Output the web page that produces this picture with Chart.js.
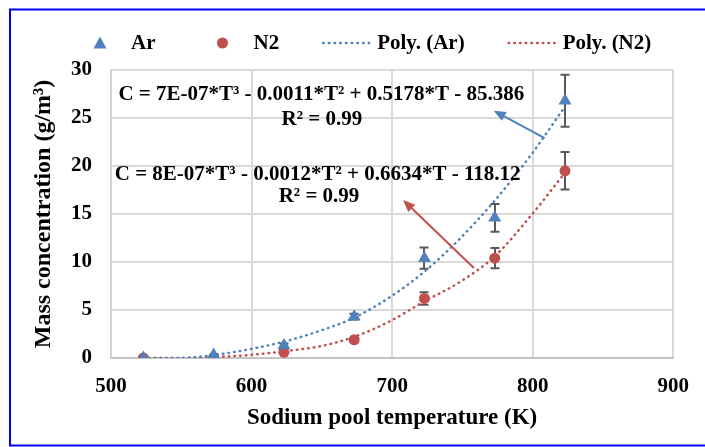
<!DOCTYPE html>
<html>
<head>
<meta charset="utf-8">
<script src="https://cdn.jsdelivr.net/npm/chart.js@4.4.1/dist/chart.umd.min.js"></script>
<style>
  html, body { margin: 0; padding: 0; background: #fff; }
</style>
</head>
<body>
<canvas id="chart" width="705" height="447"></canvas>
<script>
// measured points
var temps = [523, 573, 623, 673, 723, 773, 823];
var arValues = [0.0, 0.3, 1.3, 4.3, 10.4, 14.6, 26.8];
var arErrors = [0.05, 0.1, 0.2, 0.3, 1.1, 1.45, 2.7];
var n2Values = [0.0, 0.05, 0.6, 1.9, 6.2, 10.4, 19.5];
var n2Errors = [0.05, 0.05, 0.1, 0.15, 0.65, 1.05, 1.95];

// trend lines
var fitTemps = [523, 548, 573, 598, 623, 648, 673, 698, 723, 748, 773, 798, 823];
var arFit = [0.0, 0.0, 0.3, 0.9, 1.7, 2.8, 4.2, 6.3, 9.0, 12.4, 16.4, 21.0, 26.2];
var n2Fit = [0.0, 0.0, 0.1, 0.3, 0.7, 1.2, 2.2, 3.8, 5.9, 7.9, 10.6, 14.7, 19.3];

var xTicks = [500, 600, 700, 800, 900];
var yTicks = [0, 5, 10, 15, 20, 25, 30];

var BLUE = '#4f81bd', RED = '#c0504d', FONT = "'Liberation Serif', 'Times New Roman', serif";

function points(xs, ys){
  var ret = [];
  for (var i = 0, l = xs.length; i < l; i++) ret.push({ x: xs[i], y: ys[i] });
  return ret;
}

// equation labels and arrows, anchored in data units
var notes = [
  { text: 'C = 7E-07*T\u00b3 - 0.0011*T\u00b2 + 0.5178*T - 85.386', t: 649.6, c: 27.4 },
  { text: 'R\u00b2 = 0.99', t: 650, c: 24.85 },
  { text: 'C = 8E-07*T\u00b3 - 0.0012*T\u00b2 + 0.6634*T - 118.12', t: 647, c: 19.06 },
  { text: 'R\u00b2 = 0.99', t: 648, c: 16.77 }
];
var arrows = [
  { from: [808.5, 22.9], to: [772.3, 25.76], color: BLUE },
  { from: [758.2, 9.38], to: [707.8, 16.46], color: RED }
];

var legendItems = [
  { text: 'Ar', kind: 'triangle', color: BLUE },
  { text: 'N2', kind: 'circle', color: RED },
  { text: 'Poly. (Ar)', kind: 'dots', color: BLUE },
  { text: 'Poly. (N2)', kind: 'dots', color: RED }
];

var extras = {
  id: 'extras',
  beforeDatasetsDraw: function(chart){
    var ctx = chart.ctx, xs = chart.scales.x, ys = chart.scales.y, a = chart.chartArea;
    ctx.save();
    ctx.beginPath();
    ctx.rect(a.left, a.top, a.right - a.left, a.bottom - a.top);
    ctx.clip();
    ctx.strokeStyle = '#595959';
    ctx.lineWidth = 2;
    var sets = [[arValues, arErrors], [n2Values, n2Errors]];
    for (var s = 0; s < sets.length; s++) {
      for (var i = 0; i < temps.length; i++) {
        var px = Math.round(xs.getPixelForValue(temps[i]));
        var top = ys.getPixelForValue(sets[s][0][i] + sets[s][1][i]);
        var bot = ys.getPixelForValue(sets[s][0][i] - sets[s][1][i]);
        ctx.beginPath();
        ctx.moveTo(px, top); ctx.lineTo(px, bot);
        ctx.moveTo(px - 4.5, top); ctx.lineTo(px + 4.5, top);
        ctx.moveTo(px - 4.5, bot); ctx.lineTo(px + 4.5, bot);
        ctx.stroke();
      }
    }
    ctx.restore();
  },
  afterDatasetsDraw: function(chart){
    var ctx = chart.ctx, xs = chart.scales.x, ys = chart.scales.y;
    ctx.save();
    ctx.fillStyle = '#000';
    ctx.font = 'bold 21px ' + FONT;
    ctx.textAlign = 'center';
    ctx.textBaseline = 'middle';
    notes.forEach(function(n){
      ctx.fillText(n.text, xs.getPixelForValue(n.t), ys.getPixelForValue(n.c));
    });
    arrows.forEach(function(ar){
      var x1 = xs.getPixelForValue(ar.from[0]), y1 = ys.getPixelForValue(ar.from[1]);
      var x2 = xs.getPixelForValue(ar.to[0]), y2 = ys.getPixelForValue(ar.to[1]);
      var ang = Math.atan2(y2 - y1, x2 - x1), len = 12, half = 5;
      var bx = x2 - Math.cos(ang) * len, by = y2 - Math.sin(ang) * len;
      ctx.strokeStyle = ar.color;
      ctx.fillStyle = ar.color;
      ctx.lineWidth = 2;
      ctx.beginPath();
      ctx.moveTo(x1, y1); ctx.lineTo(bx, by);
      ctx.stroke();
      ctx.beginPath();
      ctx.moveTo(x2, y2);
      ctx.lineTo(bx + Math.sin(ang) * half, by - Math.cos(ang) * half);
      ctx.lineTo(bx - Math.sin(ang) * half, by + Math.cos(ang) * half);
      ctx.closePath();
      ctx.fill();
    });
    ctx.restore();
  },
  afterDraw: function(chart){
    var ctx = chart.ctx;
    ctx.save();
    // legend row
    ctx.font = 'bold 21px ' + FONT;
    ctx.textBaseline = 'middle';
    ctx.textAlign = 'left';
    var x = 77, y = 43, box = 46, gap = 8, spacing = 44;
    legendItems.forEach(function(item){
      var cx = x + box / 2;
      ctx.fillStyle = item.color;
      ctx.strokeStyle = item.color;
      if (item.kind === 'triangle') {
        ctx.beginPath();
        ctx.moveTo(cx, y - 6.5); ctx.lineTo(cx + 6.5, y + 5.5); ctx.lineTo(cx - 6.5, y + 5.5);
        ctx.closePath(); ctx.fill();
      } else if (item.kind === 'circle') {
        ctx.beginPath(); ctx.arc(cx, y, 5.5, 0, Math.PI * 2); ctx.fill();
      } else {
        ctx.lineWidth = 2.5; ctx.lineCap = 'round'; ctx.setLineDash([0.5, 5.2]);
        ctx.beginPath(); ctx.moveTo(x, y); ctx.lineTo(x + box, y); ctx.stroke();
        ctx.setLineDash([]);
      }
      ctx.fillStyle = '#000';
      ctx.fillText(item.text, x + box + gap, y + 1);
      x += box + gap + ctx.measureText(item.text).width + spacing;
    });
    // blue frame round the picture
    ctx.strokeStyle = '#0000ff';
    ctx.lineWidth = 2;
    ctx.strokeRect(10, 9.5, 760, 436);
    ctx.restore();
  }
};

Chart.defaults.font.family = FONT;
Chart.defaults.font.weight = 'bold';
Chart.defaults.color = '#000';

new Chart(document.getElementById('chart'), {
  type: 'scatter',
  data: {
    datasets: [
      { label: 'Ar', data: points(temps, arValues), pointStyle: 'triangle', pointRadius: 7.5,
        backgroundColor: BLUE, borderColor: BLUE, borderWidth: 0 },
      { label: 'N2', data: points(temps, n2Values), pointStyle: 'circle', pointRadius: 5.5,
        backgroundColor: RED, borderColor: RED, borderWidth: 0 },
      { label: 'Poly. (Ar)', data: points(fitTemps, arFit), showLine: true, pointRadius: 0,
        borderColor: BLUE, borderWidth: 2.5, borderDash: [0.5, 5.2], borderCapStyle: 'round',
        cubicInterpolationMode: 'monotone' },
      { label: 'Poly. (N2)', data: points(fitTemps, n2Fit), showLine: true, pointRadius: 0,
        borderColor: RED, borderWidth: 2.5, borderDash: [0.5, 5.2], borderCapStyle: 'round',
        cubicInterpolationMode: 'monotone' }
    ]
  },
  options: {
    responsive: false,
    animation: false,
    devicePixelRatio: 1,
    layout: { padding: { top: 70, right: 30, left: 0, bottom: 0 } },
    plugins: { legend: { display: false }, tooltip: { enabled: false } },
    scales: {
      x: {
        type: 'linear', min: 500, max: 900,
        afterBuildTicks: function(scale){ scale.ticks = xTicks.map(function(v){ return { value: v }; }); },
        afterFit: function(scale){ scale.height = 89; },
        grid: { color: '#d9d9d9', lineWidth: 2, drawTicks: false },
        border: { color: '#c4c4c4', width: 2 },
        ticks: { padding: 16, font: { size: 21 } },
        title: { display: true, text: 'Sodium pool temperature (K)', font: { size: 23 }, padding: { top: 0, bottom: 15 } }
      },
      y: {
        min: 0, max: 30,
        afterBuildTicks: function(scale){ scale.ticks = yTicks.map(function(v){ return { value: v }; }); },
        afterFit: function(scale){ scale.width = 111; },
        grid: { color: '#d9d9d9', lineWidth: 2, drawTicks: false },
        border: { color: '#d0d0d0', width: 2 },
        ticks: { padding: 19, font: { size: 21 } },
        title: { display: true, text: 'Mass concentration (g/m\u00b3)', font: { size: 24 }, padding: { top: 29, bottom: 0 } }
      }
    }
  },
  plugins: [extras]
});
</script>
</body>
</html>
